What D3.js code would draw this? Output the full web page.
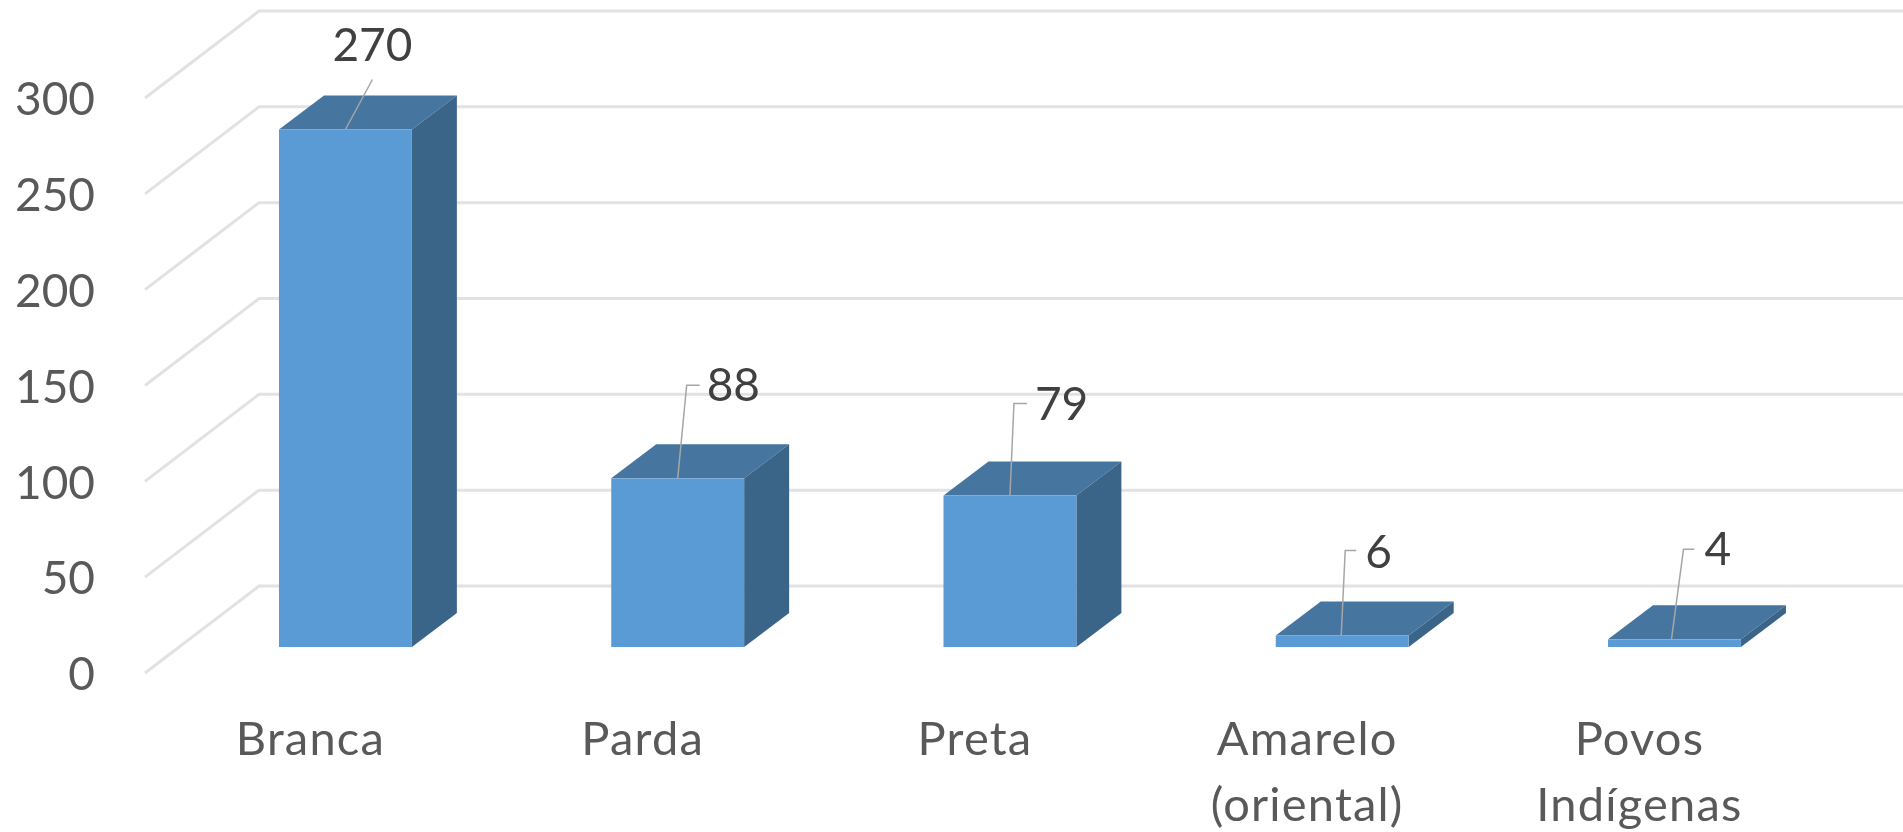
<!DOCTYPE html>
<html>
<head>
<meta charset="utf-8">
<script src="https://cdn.jsdelivr.net/npm/d3@7"></script>
<style>
html, body { margin: 0; padding: 0; background: #fff; }
svg { display: block; filter: blur(0.6px); }
text { font-family: Lato, "Open Sans", sans-serif; }
</style>
</head>
<body>
<svg width="1903" height="832"></svg>
<script>
var categories = ['Branca', 'Parda', 'Preta', 'Amarelo (oriental)', 'Povos Indígenas'];
var values = [270, 88, 79, 6, 4];
var yTicks = [0, 50, 100, 150, 200, 250, 300];

// layout
var wallDx = 114, wallDy = -87;     // front of the floor to the back wall
var barDx = 45, barDy = -34;        // depth of a bar
var floorGap = 26;                  // bars stand this far behind the front edge
var numberSize = 46, labelSize = 47;

// leader line and label, relative to the top centre of each bar
var leaders = [
    { start: 0, elbow: [27, -50], end: [27, -50], text: [27, -85], anchor: 'middle' },
    { start: 0, elbow: [9, -93], end: [22, -93], text: [29, -93], anchor: 'start' },
    { start: 0, elbow: [4, -92], end: [17, -92], text: [25, -92], anchor: 'start' },
    { start: -1, elbow: [3, -85], end: [14, -85], text: [23, -84], anchor: 'start' },
    { start: -3, elbow: [9, -90], end: [20, -90], text: [30, -90], anchor: 'start' }
];

var svg = d3.select('svg');

var y = d3.scaleLinear().domain([0, 300]).range([673, 98]);
var x = d3.scaleBand().domain(categories).range([179.3, 1840.6]).paddingInner(0.6).paddingOuter(0.3);

function barTop(v) { return y(v) - floorGap; }

// grid: diagonal on the side wall, then flat along the back wall
svg.append('g').selectAll('polyline').data(yTicks).join('polyline')
    .attr('points', function (d) {
        return [[145, y(d)], [145 + wallDx, y(d) + wallDy], [1903, y(d) + wallDy]].join(' ');
    })
    .attr('fill', 'none')
    .attr('stroke', '#e2e2e2')
    .attr('stroke-width', 3);

// y axis
var yAxis = svg.append('g')
    .attr('transform', 'translate(95,2)')
    .call(d3.axisLeft(y).tickValues(yTicks).tickSize(0).tickPadding(0));
yAxis.select('.domain').remove();
yAxis.selectAll('text').attr('font-size', numberSize).attr('fill', '#595959').style('font-family', 'Lato');

// x axis, labels sit left of the bars and wrap on the space
var xAxis = svg.append('g')
    .attr('transform', 'translate(-35,0)')
    .call(d3.axisBottom(x).tickSize(0));
xAxis.select('.domain').remove();
xAxis.selectAll('text').each(function (d) {
    var t = d3.select(this).text(null).attr('font-size', labelSize).attr('fill', '#595959')
        .style('font-family', 'Lato').style('letter-spacing', '1.2px');
    var words = d.split(' ');
    words.forEach(function (w, i) {
        t.append('tspan').attr('x', 0).attr('y', 755 + i * 66).attr('dy', 0).text(w);
    });
}).attr('dy', 0);

// bars
var bars = svg.append('g').selectAll('g').data(categories).join('g');

// top
bars.append('polygon')
    .attr('fill', '#46759f')
    .attr('points', function (d, i) {
        var l = x(d), r = l + x.bandwidth(), t = barTop(values[i]);
        return [[l, t], [l + barDx, t + barDy], [r + barDx, t + barDy], [r, t]].join(' ');
    });
// side
bars.append('polygon')
    .attr('fill', '#3a6488')
    .attr('points', function (d, i) {
        var r = x(d) + x.bandwidth(), t = barTop(values[i]), b = barTop(0);
        return [[r, t], [r + barDx, t + barDy], [r + barDx, b + barDy], [r, b]].join(' ');
    });
// front
bars.append('rect')
    .attr('fill', '#5b9bd5')
    .attr('x', function (d) { return x(d); })
    .attr('y', function (d, i) { return barTop(values[i]); })
    .attr('width', x.bandwidth())
    .attr('height', function (d, i) { return barTop(0) - barTop(values[i]); });

// leader lines
bars.append('polyline')
    .attr('fill', 'none')
    .attr('stroke', '#a6a6a6')
    .attr('stroke-width', 1.5)
    .attr('points', function (d, i) {
        var cx = x(d) + x.bandwidth() / 2, t = barTop(values[i]), o = leaders[i];
        return [[cx + o.start, t], [cx + o.elbow[0], t + o.elbow[1]], [cx + o.end[0], t + o.end[1]]].join(' ');
    });

// data labels
bars.append('text')
    .attr('x', function (d, i) { return x(d) + x.bandwidth() / 2 + leaders[i].text[0]; })
    .attr('y', function (d, i) { return barTop(values[i]) + leaders[i].text[1]; })
    .attr('dy', '0.35em')
    .attr('text-anchor', function (d, i) { return leaders[i].anchor; })
    .attr('font-size', numberSize)
    .attr('fill', '#404040')
    .text(function (d, i) { return values[i]; });
</script>
</body>
</html>
